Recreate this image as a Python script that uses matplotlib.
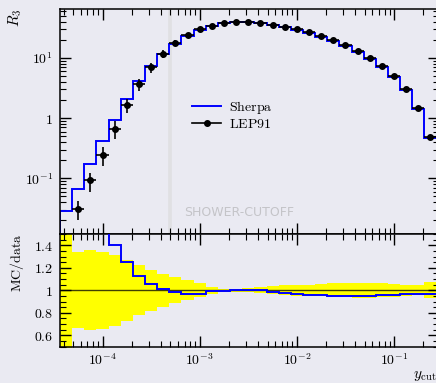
import numpy as np
import matplotlib
matplotlib.use("Agg")
import matplotlib.pyplot as plt
from matplotlib.ticker import LogLocator, FuncFormatter, MultipleLocator, NullFormatter
from matplotlib.lines import Line2D

plt.rcParams['mathtext.fontset'] = 'cm'
plt.rcParams['font.family'] = ['DejaVu Sans']

# ---------------- data ----------------
# log-spaced y_cut bins: 8 per decade, centres at 10^(-4 + k/8), k=-3..27
bin_edges = np.logspace(-4.4375, -0.5625, 32)

sherpa = [0.029, 0.066, 0.17, 0.42, 0.94, 2.05, 4.14, 7.36, 11.8, 17.4, 23.5,
          29.5, 34.2, 37.7, 40.0, 39.5, 38.0, 35.1, 32.4, 29.1, 25.6, 22.5,
          19.06, 15.6, 12.58, 9.69, 7.0, 4.83, 2.92, 1.446, 0.469]

lep91 = [np.nan, 0.031, 0.092, 0.243, 0.67, 1.64, 3.67, 6.98, 11.7, 17.6, 24.2,
         30.4, 34.5, 37.8, 39.9, 39.3, 37.8, 35.5, 33.2, 30.2, 26.8, 23.6,
         20.0, 16.5, 13.3, 10.2, 7.3, 5.04, 3.03, 1.50, 0.483]

lep91_relerr = [1.0, 0.337, 0.355, 0.34, 0.317, 0.27, 0.222, 0.182, 0.145, 0.115,
                0.087, 0.062, 0.03, 0.013, 0.015, 0.02, 0.025, 0.036, 0.045,
                0.048, 0.05, 0.054, 0.06, 0.062, 0.065, 0.065, 0.062, 0.057,
                0.048, 0.045, 0.071]

shower_cutoff = 5e-4
legend_labels = [r'$\mathrm{Sherpa}$', r'$\mathrm{LEP91}$']

# ---------------- figure ----------------
BG = '#eaeaf2'
W, H = 436, 383
fig = plt.figure(figsize=(W / 100, H / 100), dpi=100, facecolor=BG)

def px_axes(x0, y0, x1, y1):
    return fig.add_axes([x0 / W, (H - y1) / H, (x1 - x0) / W, (y1 - y0) / H])

ax1 = px_axes(60, 9, 439, 234)
ax2 = px_axes(60, 234, 439, 346.5)

xmin = 10 ** -4.4375
xmax = 10 ** -0.5375

edges = np.asarray(bin_edges)
centres = np.sqrt(edges[:-1] * edges[1:])
mc = np.asarray(sherpa)
dat = np.asarray(lep91)
rel = np.asarray(lep91_relerr)

for ax in (ax1, ax2):
    ax.set_facecolor(BG)
    ax.set_xscale('log')
    ax.set_xlim(xmin, xmax)
    for s in ax.spines.values():
        s.set_color('black')
        s.set_linewidth(1.1)
    ax.tick_params(which='both', direction='in', top=True, right=True,
                   color='black', labelsize=10)
    ax.tick_params(which='major', length=8, width=1.0, pad=5)
    ax.tick_params(which='minor', length=4.5, width=0.8)
    ax.xaxis.set_major_locator(LogLocator(base=10, numticks=20))
    ax.xaxis.set_minor_locator(LogLocator(base=10, subs=np.arange(2, 10), numticks=20))
    ax.xaxis.set_minor_formatter(NullFormatter())

def logfmt(v, pos):
    e = int(round(np.log10(v)))
    if e == 0:
        return r'$1$'
    return r'$10^{%d}$' % e

# ---- top panel ----
ax1.set_yscale('log')
ylo, yhi = 10 ** -1.926, 10 ** 1.815
ax1.set_ylim(ylo, yhi)
ax1.yaxis.set_major_locator(LogLocator(base=10, numticks=20))
ax1.yaxis.set_minor_locator(LogLocator(base=10, subs=np.arange(2, 10), numticks=20))
ax1.yaxis.set_major_formatter(FuncFormatter(logfmt))
ax1.yaxis.set_minor_formatter(NullFormatter())
ax1.tick_params(labelbottom=False)

ax1.axvline(shower_cutoff, color='#e0e0e3', lw=2.6, zorder=0.5)
ax1.text((184 - 60) / 379, (234 - 216) / 225, 'SHOWER-CUTOFF',
         transform=ax1.transAxes, fontsize=9, color='#c4c4c8',
         ha='left', va='baseline', family='DejaVu Sans')

ax1.stairs(mc, edges, baseline=None, color='#0000ff', lw=1.4, zorder=2)
ax1.plot([edges[0], edges[0]], [ylo, mc[0]], color='#0000ff', lw=1.4, zorder=2,
         clip_on=True)

xerr = [centres - edges[:-1], edges[1:] - centres]
ax1.errorbar(centres, dat, yerr=dat * rel, xerr=xerr, fmt='o', color='black',
             ms=4, lw=1.2, elinewidth=1.2, capsize=0, zorder=3)

handles = [Line2D([], [], color='#0000ff', lw=1.4),
           Line2D([], [], color='black', lw=1.2, marker='o', ms=4)]
ax1.legend(handles, legend_labels, loc='upper left',
           bbox_to_anchor=((192 - 60) / 379, (234 - 99) / 225),
           frameon=False, fontsize=10, handlelength=2.1, handletextpad=0.55,
           borderpad=0, borderaxespad=0, labelspacing=0.06)

# ---- ratio panel ----
ratio = mc / dat
band_lo = np.append(1 - rel, (1 - rel)[-1])
band_hi = np.append(1 + rel, (1 + rel)[-1])
ax2.fill_between(edges, band_lo, band_hi, step='post', color='#ffff00', lw=0, zorder=1)
ax2.axhline(1.0, color='black', lw=1.0, alpha=0.75, zorder=2)
ax2.stairs(ratio, edges, baseline=None, color='#0000ff', lw=1.4, zorder=3)
ax2.set_ylim(0.5, 1.5)
ax2.yaxis.set_major_locator(MultipleLocator(0.2))
ax2.yaxis.set_minor_locator(MultipleLocator(0.05))
ax2.yaxis.set_major_formatter(FuncFormatter(
    lambda v, p: r'$1$' if abs(v - 1) < 1e-9 else r'$%.1f$' % v))
ax2.xaxis.set_major_formatter(FuncFormatter(logfmt))
ax2.tick_params(axis='x', pad=4)

# ---- labels ----
fig.text(15.5 / W, 1 - 9 / H, r'$R_3$', rotation=90, ha='center', va='top', fontsize=11)
fig.text(16.5 / W, 1 - 234 / H, r'$\mathrm{MC/data}$', rotation=90, ha='center',
         va='top', fontsize=10)
fig.text(437 / W, 5 / H, r'$y_\mathrm{cut}$', ha='right', va='baseline', fontsize=11)

fig.savefig('out.png', dpi=100, facecolor=BG)
